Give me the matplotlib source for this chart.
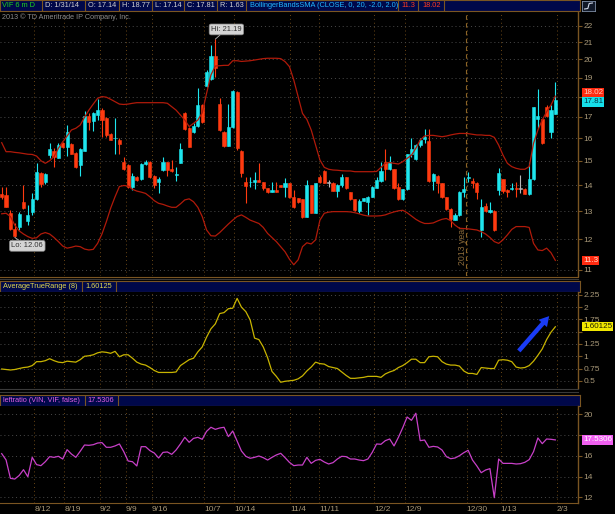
import matplotlib
matplotlib.use('Agg')
import matplotlib.pyplot as plt
from matplotlib.patches import FancyArrowPatch
from matplotlib.ticker import NullLocator, FixedLocator, FixedFormatter
from matplotlib.lines import Line2D
import numpy as np

# ---------------- data ----------------
opens = [13.63, 13.61, 12.94, 12.36, 12.42, 13.33, 12.65, 12.98, 13.44, 14.47,
         14.11, 15.24, 15.42, 15.13, 15.79, 15.61, 15.71, 15.34, 14.82, 15.43,
         17.03, 16.81, 17.08, 17.32, 16.95, 16.17, 15.99, 15.90, 14.96, 14.82,
         13.94, 14.33, 14.23, 14.86, 14.96, 14.37, 14.14, 14.61, 14.93, 14.64,
         14.42, 14.92, 17.16, 16.48, 16.29, 16.57, 17.57, 18.55, 18.91, 20.22,
         17.62, 16.29, 15.66, 16.52, 18.25, 15.43, 14.14, 14.11, 14.14, 14.20,
         14.11, 13.87, 13.74, 13.81, 14.00, 13.91, 14.07, 13.54, 13.48, 13.44,
         12.79, 14.00, 12.94, 14.33, 14.57, 14.08, 14.10, 13.76, 13.99, 14.32,
         13.72, 13.44, 13.02, 13.38, 13.35, 13.54, 13.90, 14.17, 14.95, 14.64,
         14.64, 13.94, 13.44, 13.83, 15.27, 15.09, 15.68, 15.95, 15.86, 14.17,
         14.37, 14.07, 13.52, 13.08, 12.69, 12.86, 13.74, 14.29, 14.16, 14.07,
         12.32, 13.19, 12.98, 13.01, 13.81, 14.24, 13.81, 13.84, 13.90, 13.85,
         13.86, 13.65, 14.24, 16.87, 16.87, 17.49, 16.29, 17.14]
highs = [13.94, 13.91, 13.04, 12.58, 12.98, 14.00, 13.23, 13.67, 14.92, 14.54,
         14.50, 15.76, 15.54, 15.76, 15.83, 16.60, 15.76, 15.39, 15.54, 17.27,
         17.16, 17.24, 17.86, 17.40, 17.00, 16.22, 16.92, 15.98, 15.17, 14.85,
         14.47, 14.36, 14.92, 15.03, 14.99, 14.40, 14.33, 15.17, 14.96, 15.03,
         14.75, 15.79, 17.24, 16.50, 16.68, 18.43, 17.62, 19.41, 20.84, 21.19,
         17.91, 16.32, 17.62, 18.35, 18.29, 15.46, 14.33, 14.33, 14.54, 14.89,
         14.14, 13.90, 14.14, 14.14, 14.02, 14.27, 14.10, 13.81, 13.51, 13.47,
         14.20, 14.02, 14.10, 14.40, 14.60, 14.20, 14.13, 14.04, 14.45, 14.33,
         13.74, 13.46, 13.44, 13.49, 13.58, 13.97, 14.33, 14.96, 15.49, 15.20,
         14.67, 14.07, 13.86, 15.30, 15.98, 15.71, 15.98, 16.42, 16.40, 14.47,
         14.40, 14.10, 13.55, 13.11, 12.92, 13.77, 14.33, 14.54, 14.27, 14.14,
         13.44, 13.29, 13.35, 13.04, 14.68, 14.24, 13.83, 14.07, 14.14, 14.41,
         13.88, 14.93, 17.48, 18.38, 16.90, 17.57, 17.57, 18.77]
lows = [13.45, 13.14, 12.32, 12.06, 12.32, 13.08, 12.49, 12.86, 13.41, 13.94,
        14.06, 15.10, 14.72, 15.10, 15.54, 15.20, 15.27, 14.68, 14.36, 15.40,
        16.37, 16.34, 16.84, 16.06, 16.06, 15.91, 15.31, 15.31, 14.61, 13.90,
        13.81, 14.15, 14.20, 14.82, 14.27, 13.87, 13.70, 14.58, 14.37, 14.54,
        14.18, 14.90, 16.37, 15.58, 16.25, 16.52, 16.72, 18.52, 18.87, 19.05,
        16.34, 15.61, 15.63, 16.48, 15.46, 14.33, 13.32, 13.94, 13.83, 14.11,
        13.81, 13.70, 13.71, 13.71, 13.92, 13.54, 13.51, 13.11, 13.32, 12.76,
        12.77, 12.92, 12.92, 14.07, 14.07, 13.94, 13.75, 13.54, 13.94, 13.83,
        13.41, 13.00, 12.94, 13.36, 12.86, 13.52, 13.87, 14.14, 14.20, 14.61,
        13.84, 13.41, 13.41, 13.80, 15.17, 15.05, 15.61, 15.76, 14.11, 13.81,
        13.67, 13.50, 13.05, 12.42, 12.67, 12.83, 13.54, 14.14, 13.87, 13.44,
        12.07, 12.98, 12.94, 12.30, 13.61, 13.68, 13.54, 13.81, 13.54, 13.67,
        13.63, 13.61, 14.21, 16.44, 15.73, 17.00, 15.98, 17.14]
closes = [13.54, 13.17, 12.36, 12.12, 12.90, 13.11, 12.86, 13.44, 14.51, 14.04,
          14.45, 15.49, 15.17, 15.68, 15.61, 16.26, 15.31, 14.72, 15.49, 17.03,
          16.76, 17.16, 17.32, 16.84, 16.14, 15.93, 16.02, 15.71, 14.64, 13.94,
          14.36, 14.20, 14.86, 14.95, 14.33, 14.00, 14.23, 14.93, 14.61, 14.58,
          14.45, 15.51, 16.42, 15.61, 16.57, 17.57, 16.76, 19.28, 20.22, 19.54,
          16.37, 15.66, 16.52, 18.29, 15.54, 14.47, 13.98, 14.14, 14.20, 14.14,
          13.87, 13.74, 13.81, 13.74, 13.94, 14.07, 13.54, 13.14, 13.35, 12.79,
          14.00, 12.94, 14.07, 14.14, 14.10, 14.08, 13.78, 14.00, 14.32, 13.89,
          13.44, 13.03, 13.39, 13.48, 13.54, 13.94, 14.20, 14.55, 14.64, 14.95,
          13.87, 13.44, 13.83, 15.27, 15.49, 15.68, 15.90, 16.03, 14.17, 14.43,
          14.07, 13.52, 13.08, 12.71, 12.86, 13.74, 13.83, 14.33, 14.07, 13.74,
          13.14, 13.00, 13.04, 12.32, 14.47, 13.78, 13.74, 13.90, 13.84, 13.85,
          13.65, 14.24, 17.45, 17.03, 15.76, 17.03, 17.32, 17.81]
bb_upper = [15.79, 15.39, 15.39, 15.36, 15.34, 15.31, 15.28, 15.27, 15.20, 15.00,
            14.89, 15.00, 15.17, 15.54, 15.83, 16.09, 16.37, 16.45, 16.60, 16.97,
            17.32, 17.62, 17.91, 18.00, 17.97, 17.86, 17.74, 17.62, 17.60, 17.62,
            17.66, 17.69, 17.69, 17.69, 17.69, 17.69, 17.69, 17.69, 17.66, 17.49,
            17.32, 17.08, 16.84, 16.53, 16.68, 16.84, 17.19, 18.17, 19.14, 19.63,
            19.65, 19.67, 19.67, 19.93, 19.93, 19.89, 19.91, 19.93, 19.97, 20.01,
            20.05, 20.07, 20.07, 20.07, 20.05, 19.88, 19.60, 18.87, 18.00, 17.16,
            16.87, 16.37, 15.68, 15.03, 14.72, 14.64, 14.61, 14.60, 14.58, 14.57,
            14.57, 14.54, 14.54, 14.54, 14.54, 14.54, 14.55, 14.72, 14.89, 14.92,
            14.89, 14.86, 14.96, 15.10, 15.24, 15.54, 15.91, 16.09, 16.12, 16.12,
            16.09, 16.06, 16.09, 16.14, 16.18, 16.21, 16.21, 16.20, 16.17, 16.14,
            16.14, 16.12, 16.12, 16.03, 15.68, 15.24, 14.89, 14.75, 14.68, 14.64,
            14.64, 14.75, 15.76, 16.37, 16.84, 17.24, 17.57, 18.02]
bb_lower = [12.90, 12.92, 12.80, 12.49, 12.29, 12.18, 12.09, 12.03, 12.05, 12.18,
            12.23, 12.18, 12.06, 11.92, 11.77, 11.70, 11.73, 11.77, 11.75, 11.67,
            11.64, 11.66, 11.86, 12.18, 12.61, 13.11, 13.54, 13.94, 13.98, 13.96,
            13.83, 13.76, 13.72, 13.67, 13.54, 13.39, 13.29, 13.25, 13.19, 13.14,
            13.14, 13.27, 13.42, 13.46, 13.35, 13.14, 12.80, 12.32, 12.12, 12.11,
            12.23, 12.38, 12.53, 12.67, 12.80, 12.86, 12.77, 12.67, 12.61, 12.55,
            12.41, 12.20, 12.06, 11.92, 11.75, 11.58, 11.34, 11.16, 11.32, 11.75,
            11.88, 11.84, 11.98, 12.67, 12.92, 12.96, 12.98, 12.98, 12.98, 12.98,
            12.97, 12.94, 12.90, 12.85, 12.82, 12.82, 12.82, 12.83, 12.86, 12.92,
            12.97, 13.01, 13.03, 12.94, 12.82, 12.70, 12.61, 12.55, 12.55, 12.57,
            12.64, 12.70, 12.73, 12.65, 12.49, 12.38, 12.37, 12.36, 12.34, 12.32,
            12.26, 12.18, 12.06, 11.92, 11.86, 11.98, 12.15, 12.34, 12.44, 12.44,
            12.44, 12.41, 11.86, 11.64, 11.62, 11.70, 11.55, 11.30]
atr = [0.74, 0.73, 0.72, 0.73, 0.75, 0.77, 0.78, 0.81, 0.89, 0.89,
       0.91, 0.95, 0.91, 0.88, 0.87, 0.90, 0.89, 0.88, 0.93, 1.00,
       1.01, 1.03, 1.07, 1.09, 1.08, 1.06, 1.10, 0.99, 1.03, 1.03,
       0.96, 0.88, 0.84, 0.82, 0.77, 0.71, 0.67, 0.67, 0.67, 0.67,
       0.68, 0.81, 0.87, 0.93, 0.96, 1.09, 1.19, 1.39, 1.56, 1.66,
       1.87, 1.89, 1.97, 1.98, 2.18, 2.00, 1.91, 1.74, 1.37, 1.34,
       1.19, 0.97, 0.69, 0.59, 0.47, 0.49, 0.50, 0.51, 0.54, 0.60,
       0.70, 0.78, 0.88, 0.85, 0.84, 0.79, 0.77, 0.75, 0.68, 0.61,
       0.55, 0.55, 0.56, 0.57, 0.59, 0.59, 0.59, 0.57, 0.64, 0.68,
       0.71, 0.77, 0.81, 0.87, 0.94, 0.94, 0.87, 0.87, 0.99, 1.00,
       0.99, 0.89, 0.84, 0.82, 0.82, 0.80, 0.70, 0.65, 0.65, 0.63,
       0.77, 0.76, 0.75, 0.75, 0.92, 0.93, 0.92, 0.89, 0.78, 0.76,
       0.77, 0.81, 0.90, 1.02, 1.15, 1.34, 1.49, 1.60125]
ratio = [16.21, 15.60, 13.83, 13.76, 14.10, 14.66, 13.98, 15.85, 15.15, 15.05,
         15.43, 15.92, 15.85, 15.95, 15.69, 16.59, 16.17, 15.85, 16.43, 17.04,
         17.01, 17.07, 17.23, 17.27, 16.82, 16.82, 16.95, 17.14, 16.40, 15.50,
         15.43, 15.02, 16.88, 16.88, 16.50, 16.27, 15.79, 16.33, 16.37, 16.14,
         16.56, 17.14, 17.78, 17.30, 17.68, 17.78, 17.59, 18.36, 18.75, 18.55,
         18.68, 18.75, 17.85, 18.39, 17.43, 16.46, 15.95, 15.76, 15.85, 15.98,
         15.82, 15.59, 15.85, 16.08, 16.24, 15.82, 15.37, 15.05, 15.11, 15.11,
         15.85, 15.27, 15.56, 15.66, 15.40, 15.21, 15.34, 15.69, 15.95, 15.92,
         15.69, 15.69, 15.59, 15.53, 15.69, 16.33, 17.14, 17.11, 17.46, 17.62,
         16.95, 17.78, 18.71, 19.74, 19.42, 20.10, 17.46, 17.52, 16.82, 16.91,
         16.85, 16.56, 15.92, 15.72, 15.79, 16.01, 16.30, 16.53, 15.59, 15.02,
         14.37, 14.63, 14.76, 11.96, 15.69, 15.27, 15.27, 15.27, 15.21, 15.24,
         15.37, 15.63, 16.40, 17.72, 17.17, 17.62, 17.59, 17.5306]
date_tick_pos = [7.5, 14.4, 22.5, 28.4, 34.4, 46.4, 53.4, 66.1, 72.9, 85.5, 92.5, 106.7, 114.5, 127.4]
date_labels = ['8/12', '8/19', '9/2', '9/9', '9/16', '10/7', '10/14', '11/4', '11/11',
               '12/2', '12/9', '12/30', '1/13', '2/3']
year_break = 106.5
price_ticks = list(range(11, 23))
price_tick_labels = ['11', '12', '13', '14', '15', '16', '17', '', '19', '20', '21', '22']
atr_ticks = [0.5, 0.75, 1.0, 1.25, 1.5, 1.75, 2.0, 2.25]
atr_tick_labels = ['0.5', '0.75', '1', '1.25', '', '1.75', '2', '2.25']
ratio_ticks = [12, 14, 16, 18, 20]
ratio_tick_labels = ['12', '14', '16', '', '20']
header_items = [('VIF 6 m D', '#1ed21e'), ('D: 1/31/14', '#d0d0d0'), ('O: 17.14', '#d0d0d0'),
                ('H: 18.77', '#d0d0d0'), ('L: 17.14', '#d0d0d0'), ('C: 17.81', '#d0d0d0'),
                ('R: 1.63', '#d0d0d0'), ('BollingerBandsSMA (CLOSE, 0, 20, -2.0, 2.0)', '#22b8ff'),
                ('11.3', '#ff3a20'), ('18.02', '#ff3a20')]

# ---------------- layout helpers ----------------
W, H = 615, 514
fig = plt.figure(figsize=(W / 100, H / 100), dpi=100, facecolor='black')

def rect(x0, y0, x1, y1):
    return [x0 / W, 1 - y1 / H, (x1 - x0) / W, (y1 - y0) / H]

def fx(px):
    return px / W

def fy(py):
    return 1 - py / H

FONT = ['Liberation Sans', 'DejaVu Sans']
plt.rcParams['font.family'] = FONT
BROWN = '#7a5522'
VGRID = '#6b4716'
HGRID = '#4a4a4a'
TICKTXT = '#a89878'
UP = '#1ee6ee'
DOWN = '#ff3a10'
DOJI = '#b8b8b8'
BAND = '#b01a0a'

o = np.array(opens); h = np.array(highs); l = np.array(lows); c = np.array(closes)
n = len(c)
xs = np.arange(n)
XL = (-0.39, 132.2)

def style_panel(ax, yticks, ylabels):
    ax.set_facecolor('black')
    ax.set_xlim(*XL)
    for s in ['left', 'top', 'bottom']:
        ax.spines[s].set_visible(False)
    ax.spines['right'].set_color(BROWN)
    ax.spines['right'].set_linewidth(1.0)
    ax.yaxis.tick_right()
    ax.yaxis.set_major_locator(FixedLocator(yticks))
    ax.yaxis.set_minor_locator(NullLocator())
    ax.yaxis.set_major_formatter(FixedFormatter(ylabels))
    ax.tick_params(axis='y', which='major', direction='out', length=3, width=0.8,
                   color=BROWN, labelcolor=TICKTXT, labelsize=6, pad=1)
    ax.xaxis.set_major_locator(FixedLocator(date_tick_pos))
    ax.xaxis.set_minor_locator(NullLocator())
    ax.tick_params(axis='x', length=0, labelbottom=False)
    ax.grid(axis='y', linestyle=(0, (1, 3)), color=HGRID, linewidth=0.7)
    ax.grid(axis='x', linestyle=(0, (1, 3)), color=VGRID, linewidth=0.7)

# ---------------- main price panel ----------------
ax = fig.add_axes(rect(0, 12, 578, 276))
ax.set_yscale('log')
ax.set_ylim(10.81, 22.89)
style_panel(ax, price_ticks, price_tick_labels)

col = np.where(c > o, UP, np.where(c < o, DOWN, DOJI))
ax.vlines(xs, l, h, colors=col, linewidth=0.8, zorder=3)
body_lo = np.minimum(o, c)
body_h = np.maximum(np.abs(c - o), 0.03)
ax.bar(xs, body_h, bottom=body_lo, width=0.72, color=col, edgecolor=col, linewidth=0.4, zorder=4)
ax.plot(xs, bb_upper, color=BAND, linewidth=0.9, zorder=5)
ax.plot(xs, bb_lower, color=BAND, linewidth=0.9, zorder=5)

ax.axvline(year_break, color='#8a6428', linestyle=(0, (4, 3)), linewidth=0.8, zorder=2)
ax.text(year_break - 0.9, 11.8, '2013 year', rotation=90, color='#8a6a3a', fontsize=6.3,
        ha='center', va='center', zorder=2)

i_hi = int(np.argmax(h)); i_lo = int(np.argmin(l))
ax.annotate('Hi: %.2f' % h[i_hi], xy=(i_hi, h[i_hi]), xytext=(8, 7), textcoords='offset points',
            fontsize=5.5, color='#303030', ha='center', va='center',
            bbox=dict(boxstyle='round,pad=0.25', fc='#d4d4d4', ec='#8a8a8a', lw=0.5),
            arrowprops=dict(arrowstyle='-', color='#bbbbbb', lw=0.6, shrinkA=0, shrinkB=0), zorder=8)
ax.annotate('Lo: %.2f' % l[i_lo], xy=(i_lo, l[i_lo]), xytext=(9, -6), textcoords='offset points',
            fontsize=5.5, color='#303030', ha='center', va='center',
            bbox=dict(boxstyle='round,pad=0.25', fc='#d4d4d4', ec='#8a8a8a', lw=0.5),
            arrowprops=dict(arrowstyle='-', color='#bbbbbb', lw=0.6, shrinkA=0, shrinkB=0), zorder=8)

# last-value labels on the price axis
def axis_label(ax_, value, text, fc, tc, dx=5, dy=0):
    ax_.annotate(text, xy=(1.0, value), xycoords=('axes fraction', 'data'),
                 xytext=(dx, dy), textcoords='offset pixels', fontsize=5.8, color=tc,
                 ha='left', va='center', annotation_clip=False,
                 bbox=dict(boxstyle='square,pad=0.15', fc=fc, ec='none'), zorder=10)

axis_label(ax, bb_upper[-1], '%.2f' % bb_upper[-1], '#ff2a10', '#ffd0c0', dy=3.5)
axis_label(ax, c[-1], '%.2f' % c[-1], '#16e0ea', '#003848', dy=-1.5)
axis_label(ax, bb_lower[-1], '%.1f' % bb_lower[-1], '#ff2a10', '#ffe0d0')

fig.text(fx(2), fy(17.5), '2013 \u00a9 TD Ameritrade IP Company, Inc.', fontsize=5.2,
         color='#8c8c8c', va='center', ha='left')

# ---------------- header bars ----------------
def header(y0, y1, items, seps, x_end=580):
    hx = fig.add_axes(rect(0, y0, x_end, y1))
    hx.set_xlim(0, x_end); hx.set_ylim(y1, y0)
    hx.set_facecolor('#00084a')
    for s in hx.spines.values():
        s.set_color(BROWN); s.set_linewidth(0.8)
    hx.set_xticks([]); hx.set_yticks([])
    for (txt, color, px) in items:
        hx.text(px, (y0 + y1) / 2 + 0.3, txt, color=color, fontsize=5.3, va='center', ha='left')
    for sx in seps:
        hx.plot([sx, sx], [y0, y1], color=BROWN, linewidth=0.8)
    return hx

hx_pos = [2, 45, 88, 122, 155, 187, 220, 250, 401, 422]
header(0, 11, [(t, col_, p) for (t, col_), p in zip(header_items, hx_pos)],
       [42, 85, 119, 152, 184, 217, 246, 398, 418, 444])

# small icon top right
icon = fig.add_axes(rect(582, 1, 595, 11))
icon.set_facecolor('#101828'); icon.set_xticks([]); icon.set_yticks([])
for s in icon.spines.values():
    s.set_color('#8090a8'); s.set_linewidth(0.6)
icon.plot([0.2, 0.45, 0.55, 0.8], [0.2, 0.25, 0.75, 0.8], color='#d0d8e8', linewidth=0.8)
icon.set_xlim(0, 1); icon.set_ylim(0, 1)

# panel separators
for yy, cc in [(276.5, BROWN), (278.5, '#3a3a3a'), (389, '#3a3a3a'), (391.5, '#3a3a3a')]:
    fig.add_artist(Line2D([0, fx(578)], [fy(yy), fy(yy)], color=cc, linewidth=0.8))

# ---------------- ATR panel ----------------
header(281, 292, [('AverageTrueRange (8)', '#e0d850', 3), ('%.5f' % atr[-1], '#e0d850', 85)], [82, 116])
ax2 = fig.add_axes(rect(0, 292, 578, 388))
ax2.set_ylim(0.353, 2.31)
style_panel(ax2, atr_ticks, atr_tick_labels)
ax2.plot(xs, atr, color='#c8b400', linewidth=0.9, zorder=5)
axis_label(ax2, atr[-1], '%.5f' % atr[-1], '#f2e800', '#202000')
arrow = FancyArrowPatch((fx(517), fy(353)), (fx(551), fy(314)), transform=fig.transFigure,
                        arrowstyle='simple,head_length=7,head_width=8,tail_width=3.2',
                        color='#1a3cf5', linewidth=0, zorder=10)
fig.add_artist(arrow)

# ---------------- ratio panel ----------------
header(395, 406, [('leftratio (VIN, VIF, false)', '#e060e0', 3), ('%.4f' % ratio[-1], '#e060e0', 87)], [85, 118])
ax3 = fig.add_axes(rect(0, 406, 578, 503))
ax3.set_ylim(11.45, 20.80)
style_panel(ax3, ratio_ticks, ratio_tick_labels)
ax3.spines['bottom'].set_visible(True)
ax3.spines['bottom'].set_color(BROWN)
ax3.plot(xs, ratio, color='#c840c8', linewidth=0.9, zorder=5)
axis_label(ax3, ratio[-1], '%.4f' % ratio[-1], '#f060f0', '#ffffff')
ax3.xaxis.set_major_formatter(FixedFormatter(date_labels))
ax3.tick_params(axis='x', length=0, labelbottom=True, labelsize=6, labelcolor=TICKTXT, pad=2)
for t in ax3.get_xticklabels():
    t.set_horizontalalignment('left')

fig.savefig('out.png', dpi=100, facecolor='black')
